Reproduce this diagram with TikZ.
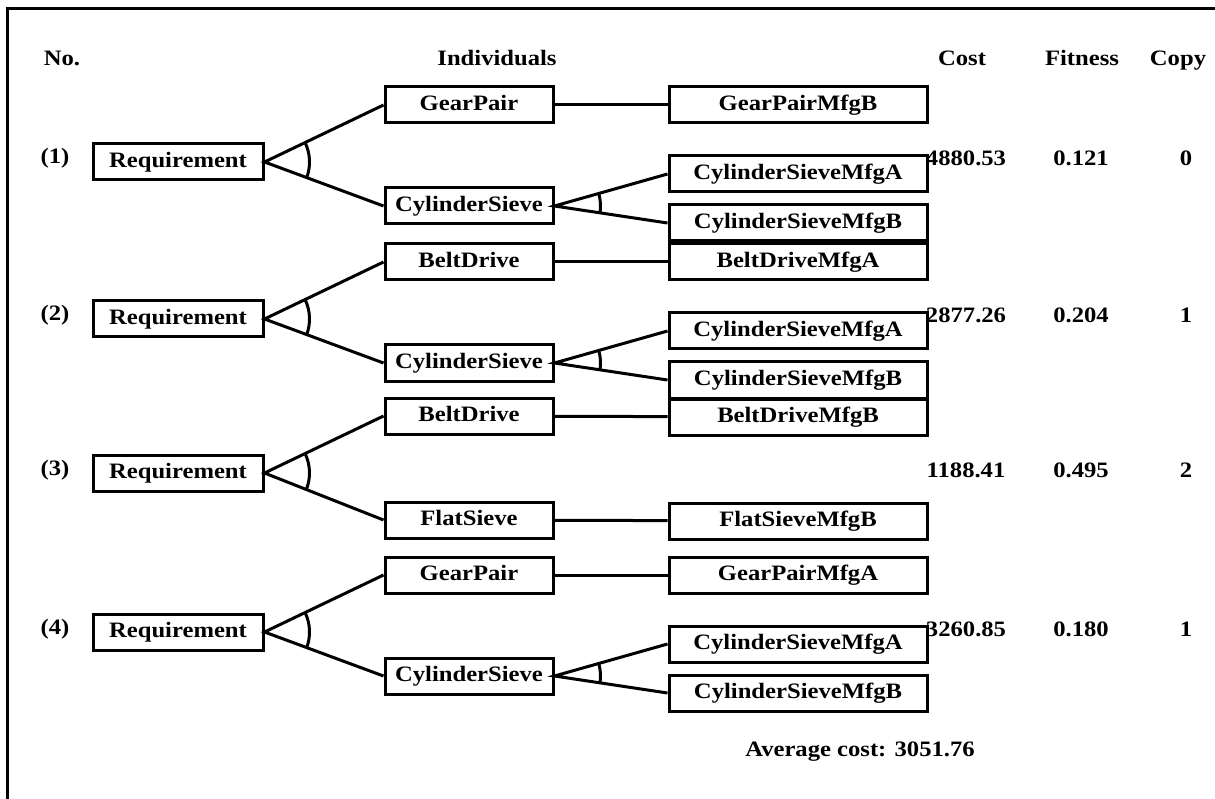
\documentclass[tikz,border=0pt]{standalone}
\usepackage{fontspec}
\setmainfont{Liberation Serif}[FakeStretch=1.12]
\usetikzlibrary{angles}

\begin{document}
\begin{tikzpicture}[x=1pt,y=-1pt,
    every node/.style={font=\bfseries\fontsize{22}{26}\selectfont},
    box/.style={draw,line width=3pt,minimum height=36pt,inner sep=0pt,
        text height=15pt,text depth=4pt},
    reqbox/.style={box,minimum width=170pt},
    subbox/.style={box,minimum width=168pt},
    mfgbox/.style={box,minimum width=258pt},
    head/.style={anchor=base},
    link/.style={line width=3pt},
    andarc/.style={draw,line width=3pt,angle radius=#1}]

\useasboundingbox (0,0) rectangle (1215,799);

% frame
\draw[line width=3pt] (1215,9) -- (7,9) -- (7,799);

% column heads
\node[head] at (62,66) {No.};
\node[head] at (497,66) {Individuals};
\node[head] at (962,66) {Cost};
\node[head] at (1082,66) {Fitness};
\node[head] at (1178,66) {Copy};

% individuals with two cylinder sieve makers
\foreach \y/\n/\drive/\drivemfg/\cost/\fit/\copies in
    {162/1/GearPair/GearPairMfgB/4880.53/0.121/0,
     319/2/BeltDrive/BeltDriveMfgA/2877.26/0.204/1,
     632/4/GearPair/GearPairMfgA/3260.85/0.180/1}
{
    \node[head] at (55,\y+2) {(\n)};
    \node[reqbox] (req\n) at (178,\y) {Requirement};
    \node[subbox] (drive\n) at (469,\y-57) {\drive};
    \node[subbox] (sieve\n) at (469,\y+44) {CylinderSieve};
    \node[mfgbox] (drivemfg\n) at (798,\y-57) {\drivemfg};
    \node[mfgbox] (sievea\n) at (798,\y+12) {CylinderSieveMfgA};
    \node[mfgbox] (sieveb\n) at (798,\y+61) {CylinderSieveMfgB};

    % anchor points for the and-arcs
    \coordinate (re\n) at (req\n.east);
    \coordinate (dw\n) at (drive\n.west);
    \coordinate (sw\n) at (sieve\n.west);
    \coordinate (se\n) at (sieve\n.east);
    \coordinate (aw\n) at (sievea\n.west);
    \coordinate (bw\n) at (sieveb\n.west);

    \draw[link] (dw\n) -- (re\n) -- (sw\n);
    \draw[link] (drive\n) -- (drivemfg\n);
    \draw[link] (aw\n) -- (se\n) -- (bw\n);
    \pic[andarc=45pt] {angle = sw\n--re\n--dw\n};
    \pic[andarc=46pt] {angle = bw\n--se\n--aw\n};

    \node[head] at (966,\y+4) {\cost};
    \node[head] at (1081,\y+4) {\fit};
    \node[head] at (1186,\y+4) {\copies};
}

% individual with flat sieve
\node[head] at (55,475) {(3)};
\node[reqbox] (req3) at (178,473) {Requirement};
\node[subbox] (drive3) at (469,416) {BeltDrive};
\node[subbox] (sieve3) at (469,520) {FlatSieve};
\node[mfgbox] (drivemfg3) at (798,417) {BeltDriveMfgB};
\node[mfgbox] (sievemfg3) at (798,521) {FlatSieveMfgB};

\coordinate (re3) at (req3.east);
\coordinate (dw3) at (drive3.west);
\coordinate (sw3) at (sieve3.west);

\draw[link] (dw3) -- (re3) -- (sw3);
\draw[link] (drive3) -- (drivemfg3);
\draw[link] (sieve3) -- (sievemfg3);
\pic[andarc=45pt] {angle = sw3--re3--dw3};

\node[head] at (966,477) {1188.41};
\node[head] at (1081,477) {0.495};
\node[head] at (1186,477) {2};

\node[head] at (860,756) {Average cost: 3051.76};

\end{tikzpicture}
\end{document}
